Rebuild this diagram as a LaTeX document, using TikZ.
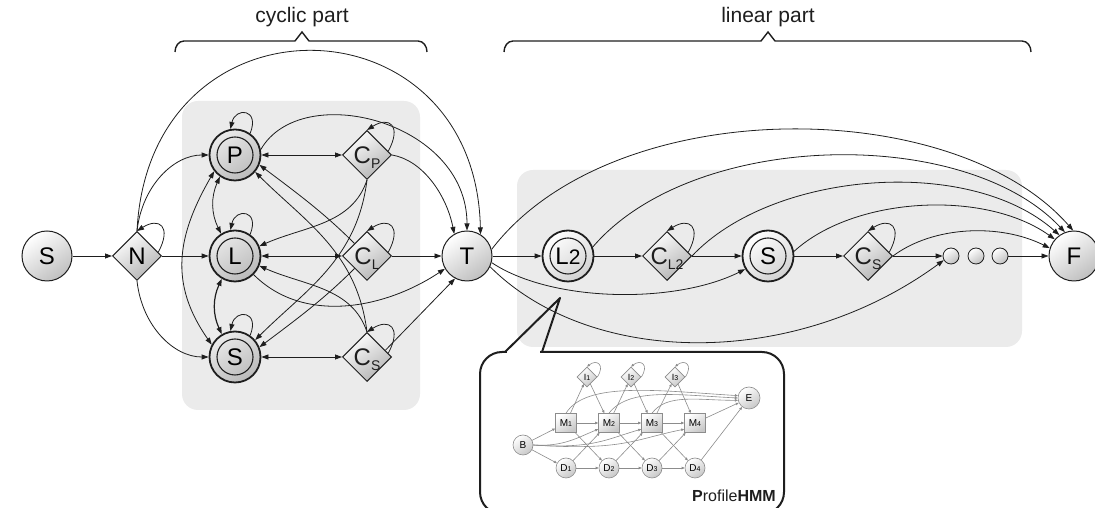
\documentclass[tikz,border=0pt]{standalone}
\usepackage{fontspec}
\setmainfont{Liberation Sans}
\usetikzlibrary{arrows.meta,shapes.geometric,calc}
\definecolor{boxgray}{HTML}{EBEBEB}
\definecolor{ink}{HTML}{1E1E1E}
\definecolor{hmmline}{HTML}{8C8C8C}
\newcommand\lsub[1]{{\fontsize{14}{14}\selectfont\raisebox{-5pt}[0pt][0pt]{#1}}}
\newcommand\hsub[1]{{\fontsize{7}{7}\selectfont #1}}
\tikzset{
  edge/.style={draw=ink, line width=0.8pt, -{Triangle[length=7pt,width=5pt]}},
  bi/.style={draw=ink, line width=0.8pt, {Triangle[length=7pt,width=5pt]}-{Triangle[length=7pt,width=5pt]}},
  plain/.style={circle, draw=ink, line width=1pt, minimum size=50pt, inner sep=0pt,
    font=\fontsize{24}{24}\selectfont, top color=white, bottom color=black!25, shading angle=35},
  dbl/.style={circle, draw=ink, line width=1.8pt, minimum size=51pt, inner sep=0pt,
    font=\fontsize{24}{24}\selectfont, top color=white, bottom color=black!18, shading angle=35,
    path picture={\draw[ink, line width=1.1pt] (path picture bounding box.center) circle[radius=18pt];}},
  cyc/.style={top color=black!8, bottom color=black!27, shading angle=35},
  dia/.style={diamond, shape aspect=1, draw=ink, line width=1pt, minimum width=49pt, minimum height=49pt,
    inner sep=0pt, font=\fontsize{24}{24}\selectfont, top color=white, bottom color=black!30, shading angle=35},
  clab/.style={font=\fontsize{24}{24}\selectfont, inner sep=0pt, text=ink},
  small/.style={circle, draw=ink, line width=0.8pt, minimum size=16pt, inner sep=0pt,
    top color=white, bottom color=black!25, shading angle=35},
  brace/.style={draw=ink, line width=1.4pt},
  parttext/.style={font=\fontsize{21}{21}\selectfont, text=ink, inner sep=0pt},
  hedge/.style={draw=hmmline, line width=0.6pt, -{Triangle[length=3pt,width=2.5pt]}},
  hsq/.style={rectangle, draw=black!45, line width=0.6pt, minimum width=21pt, minimum height=19pt, inner sep=0pt,
    top color=white, bottom color=black!22, shading angle=35, font=\fontsize{10}{10}\selectfont},
  hci/.style={circle, draw=black!45, line width=0.6pt, minimum size=20pt, inner sep=0pt,
    top color=white, bottom color=black!22, shading angle=35, font=\fontsize{10}{10}\selectfont},
  hdi/.style={diamond, shape aspect=1, draw=black!45, line width=0.6pt, minimum size=20pt, inner sep=0pt,
    top color=white, bottom color=black!22, shading angle=35, font=\fontsize{9}{9}\selectfont},
}
\begin{document}
\begin{tikzpicture}[x=1pt,y=1pt]
\useasboundingbox (0,0) rectangle (1095,508);
% background panels
\fill[boxgray, rounded corners=16pt] (182,98) rectangle (420,407);
\fill[boxgray, rounded corners=16pt] (517,161) rectangle (1022,338);
% braces
\draw[brace] (175,456) to[out=90,in=180] (184,467) -- (295,467) -- (302,476) -- (309,467) -- (418,467) to[out=0,in=90] (427,456);
\node[parttext, anchor=base] (cyctxt) at (302,485) {cyclic part};
\draw[brace] (504,456) to[out=90,in=180] (513,467) -- (761,467) -- (768,476) -- (775,467) -- (1022,467) to[out=0,in=90] (1031,456);
\node[parttext, anchor=base] (lintxt) at (768,485) {linear part};

% nodes
\node[plain] (S0) at (47,252) {S};
\node[dia] (N) at (137,252) {N};
\node[dbl, cyc] (P) at (235,353) {P};
\node[dbl, cyc] (L) at (235,252) {L};
\node[dbl, cyc] (S1) at (235,151) {S};
\node[dia, label={[clab]center:C\lsub{P}}] (CP) at (367,353) {};
\node[dia, label={[clab]center:C\lsub{L}}] (CL) at (367,252) {};
\node[dia, label={[clab]center:C\lsub{S}}] (CS) at (367,151) {};
\node[plain] (T) at (467,252) {T};
\node[dbl] (L2) at (568,252) {L{\fontsize{21}{21}\selectfont 2}};
\node[dia, label={[clab]center:C\lsub{L2}}] (CL2) at (667,252) {};
\node[dbl] (S2) at (768,252) {S};
\node[dia, label={[clab]center:C\lsub{S}}] (CS2) at (868,252) {};
\node[small] (o1) at (951,252) {};
\node[small] (o2) at (976,252) {};
\node[small] (o3) at (1000,252) {};
\node[plain] (F) at (1074,252) {F};

% self loops
\foreach \n in {P,L,S1} {
  \draw[edge] (\n.55) .. controls +(10,25) and +(5,22) .. (\n.100);
}
\foreach \n in {N,CP,CL,CS,CL2,CS2} {
  \draw[edge] (\n.10) .. controls +(14,26) and +(22,14) .. (\n.north);
}

% cyclic part edges
\draw[edge] (S0) -- (N);
\draw[edge] (N.north) .. controls +(5,45) and +(-35,0) .. (P.west);
\draw[edge] (N.east) -- (L.west);
\draw[edge] (N.south) .. controls +(5,-45) and +(-35,0) .. (S1.west);
\draw[edge] (N.north) .. controls +(12,244) and +(-5,240) .. (T.58);
\draw[bi] (P.235) to[bend right=25] (L.122);
\draw[bi, line width=1.2pt] (L.240) to[bend right=25] (S1.120);
\draw[bi] (P.218) to[out=240,in=125,looseness=1.1] (S1.152);
\draw[bi] (P.east) -- (CP.west);
\draw[bi] (L.east) -- (CL.west);
\draw[bi] (S1.east) -- (CS.west);
\draw[edge] (CP.south) .. controls +(-15,-45) and +(45,20) .. (L.22);
\draw[edge] (CP.south) .. controls +(-10,-80) and +(50,50) .. (S1.40);
\draw[edge] (CS.north) .. controls +(-15,45) and +(45,-20) .. (L.-22);
\draw[edge] (CS.north) .. controls +(-10,80) and +(50,-50) .. (P.-40);
\draw[edge] (CL.135) .. controls +(-30,30) and +(40,-30) .. (P.-22);
\draw[edge] (CL.-135) .. controls +(-30,-30) and +(40,30) .. (S1.22);
\draw[edge] (P.12) .. controls +(40,70) and +(0,110) .. (T.90);
\draw[edge] (CP.east) .. controls +(30,-5) and +(-8,40) .. (T.120);
\draw[edge] (CL.east) -- (T.west);
\draw[edge] (L.-45) .. controls +(50,-50) and +(-60,-40) .. (T.-150);
\draw[edge] (CS.20) -- (T.-118);

% linear part edges
\draw[edge] (T.east) -- (L2.west);
\draw[edge] (L2.east) -- (CL2.west);
\draw[edge] (CL2.east) -- (S2.west);
\draw[edge] (S2.east) -- (CS2.west);
\draw[edge] (CS2.east) -- (o1.west);
\draw[edge] (o3.east) -- (F.west);
\draw[edge] (T.-15) .. controls +(60,-40) and +(-70,-35) .. (S2.-150);
\draw[edge] (T.-25) .. controls +(100,-100) and +(-150,-110) .. (o1.-150);
\draw[edge] (T.15) .. controls +(120,157) and +(-120,137) .. (F.92);
\draw[edge] (L2.20) .. controls +(100,117) and +(-100,107) .. (F.111);
\draw[edge] (CL2.east) .. controls +(80,85) and +(-90,80) .. (F.125);
\draw[edge] (S2.10) .. controls +(60,55) and +(-70,50) .. (F.139);
\draw[edge] (CS2.east) .. controls +(40,30) and +(-50,25) .. (F.162);

% callout bubble
\draw[ink, line width=2pt, fill=white, rounded corners=22pt] (480,-6) rectangle (784,156);
\draw[white, line width=3pt] (507,156) -- (540,156);
\coordinate (tipA) at (505,156);
\coordinate (tipB) at (560,210);
\coordinate (tipC) at (542,156);
\draw[ink, line width=2pt, line join=round] (tipA) -- (tipB) -- (tipC);

% profile HMM
\node[hci] (B) at (523,63) {B};
\node[hsq] (M1) at (566,85) {M\hsub{1}};
\node[hsq] (M2) at (609,85) {M\hsub{2}};
\node[hsq] (M3) at (652,85) {M\hsub{3}};
\node[hsq] (M4) at (695,85) {M\hsub{4}};
\node[hci] (D1) at (566,40) {D\hsub{1}};
\node[hci] (D2) at (609,40) {D\hsub{2}};
\node[hci] (D3) at (652,40) {D\hsub{3}};
\node[hci] (D4) at (695,40) {D\hsub{4}};
\node[hdi] (I1) at (587,131) {I\hsub{1}};
\node[hdi] (I2) at (631,131) {I\hsub{2}};
\node[hdi] (I3) at (675,131) {I\hsub{3}};
\node[hci, minimum size=22pt] (E) at (749,110) {E};
\node[anchor=base east, inner sep=0pt, font=\fontsize{16}{16}\selectfont, text=ink] (ph) at (776,6) {\textbf{P}rofile\textbf{HMM}};

\draw[hedge] (B) -- (M1);
\draw[hedge] (B) -- (D1);
\draw[hedge] (B.east) .. controls +(30,-2) and +(-20,-8) .. (M2.-150);
\draw[hedge] (B.east) .. controls +(60,-4) and +(-35,-10) .. (M3.-150);
\draw[hedge] (B.east) .. controls +(90,-6) and +(-50,-10) .. (M4.-150);
\foreach \i/\j in {1/2,2/3,3/4} {
  \draw[hedge] (M\i) -- (M\j);
  \draw[hedge] (D\i) -- (D\j);
  \draw[hedge] (M\i) -- (D\j);
  \draw[hedge] (D\i) -- (M\j);
  \draw[hedge] (I\i) -- (M\j);
}
\foreach \i in {1,2,3} {
  \draw[hedge] (M\i) -- (I\i);
  \draw[hedge] (I\i.east) .. controls +(8,12) and +(10,8) .. (I\i.north);
}
\draw[hedge] (M1.north) .. controls +(20,32) and +(-80,5) .. (E.168);
\draw[hedge] (M2.north) .. controls +(20,26) and +(-60,3) .. (E.180);
\draw[hedge] (M3.north) .. controls +(15,20) and +(-40,0) .. (E.192);
\draw[hedge] (M4) -- (E);
\draw[hedge] (D4) -- (E);
\end{tikzpicture}
\end{document}
